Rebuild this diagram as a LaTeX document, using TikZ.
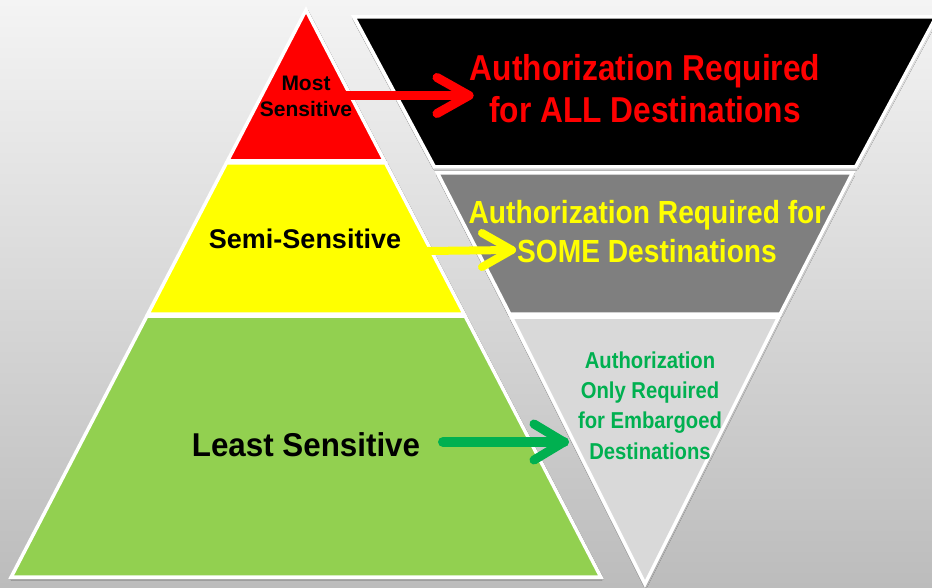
\documentclass[tikz,border=0pt]{standalone}
\usepackage{fontspec}
\setmainfont{Liberation Sans}
\newfontfamily\narrowf{Liberation Sans}[FakeStretch=0.88]
\newfontfamily\leastf{Liberation Sans}[FakeStretch=0.95]
\usetikzlibrary{calc,shadows.blur}
\definecolor{bgtop}{HTML}{F4F4F4}
\definecolor{bgbot}{HTML}{BCBCBC}
\definecolor{redband}{HTML}{FF0000}
\definecolor{yelband}{HTML}{FFFF00}
\definecolor{grnband}{HTML}{92D050}
\definecolor{grayband}{HTML}{7F7F7F}
\definecolor{lightband}{HTML}{D9D9D9}
\definecolor{grnarrow}{HTML}{00B050}
\tikzset{
  band/.style={draw=white, line width=3.5pt, line join=miter,
    blur shadow={shadow xshift=0.6pt, shadow yshift=-1.6pt, shadow blur radius=2pt, shadow opacity=40}},
  lefttext/.style={font=\bfseries, text=black, align=center, inner sep=0pt},
  righttext/.style={font=\narrowf\bfseries, align=center, inner sep=0pt},
  arrline/.style={line width=#1, line cap=round, line join=round},
}
\begin{document}
\begin{tikzpicture}[x=1pt,y=-1pt]
\useasboundingbox (0,0) rectangle (932,588);
\fill[top color=bgtop, bottom color=bgbot] (0,0) rectangle (932,588);

% inverted pyramid (right)
\path[band, fill=black]      (354,17) -- (936,17) -- (855.5,167) -- (434.5,167) -- cycle;
\path[band, fill=grayband]   (437.5,173) -- (852.5,173) -- (780.2,314) -- (509.8,314) -- cycle;
\path[band, fill=lightband]  (511.3,317) -- (778.7,317) -- (645,584) -- cycle;

% pyramid (left)
\path[band, fill=redband]    (306,10) -- (384.5,161) -- (227.5,161) -- cycle;
\path[band, fill=yelband]    (226.4,163) -- (385.6,163) -- (464.1,314) -- (147.9,314) -- cycle;
\path[band, fill=grnband]    (146.9,316) -- (465.1,316) -- (600.8,577) -- (11.2,577) -- cycle;

% left texts (base anchor = baseline of the last line)
\node[lefttext, anchor=base, font=\bfseries\fontsize{21}{26}\selectfont] (most) at (306,117) {Most\\Sensitive};
\node[lefttext, anchor=base, font=\bfseries\fontsize{27}{32}\selectfont] (semi) at (305,248) {Semi-Sensitive};
\node[lefttext, anchor=base, font=\leastf\bfseries\fontsize{33}{38}\selectfont] (least) at (306,456) {Least Sensitive};

% right texts
\node[righttext, anchor=base, text=redband, font=\narrowf\bfseries\fontsize{36}{42}\selectfont] (all) at (645,123) {Authorization Required\\for ALL Destinations};
\node[righttext, anchor=base, text=yelband, font=\narrowf\bfseries\fontsize{32}{39}\selectfont] (some) at (647,262) {Authorization Required for\\SOME Destinations};
\node[righttext, anchor=base, text=grnarrow, font=\narrowf\bfseries\fontsize{23}{30.3}\selectfont] (emb) at (650,459) {Authorization\\Only Required\\for Embargoed\\Destinations};

% arrows
\coordinate (rs) at (343,95.5);  \coordinate (rt) at (469,95.5);
\coordinate (ys) at (427,251);   \coordinate (yt) at (512,250);
\coordinate (gs) at (443,442);   \coordinate (gt) at (564,442);
\draw[arrline=9pt, draw=redband] (rs) -- (rt);
\draw[arrline=9pt, draw=redband] ($(rt)+(-32,-18)$) -- (rt) -- ($(rt)+(-32,18)$);
\draw[arrline=8pt, draw=yelband] (ys) -- (yt);
\draw[arrline=8pt, draw=yelband] ($(yt)+(-30,-17)$) -- (yt) -- ($(yt)+(-30,17)$);
\draw[arrline=10pt, draw=grnarrow] (gs) -- (gt);
\draw[arrline=9pt, draw=grnarrow] ($(gt)+(-30,-18)$) -- (gt) -- ($(gt)+(-30,18)$);
\end{tikzpicture}
\end{document}
